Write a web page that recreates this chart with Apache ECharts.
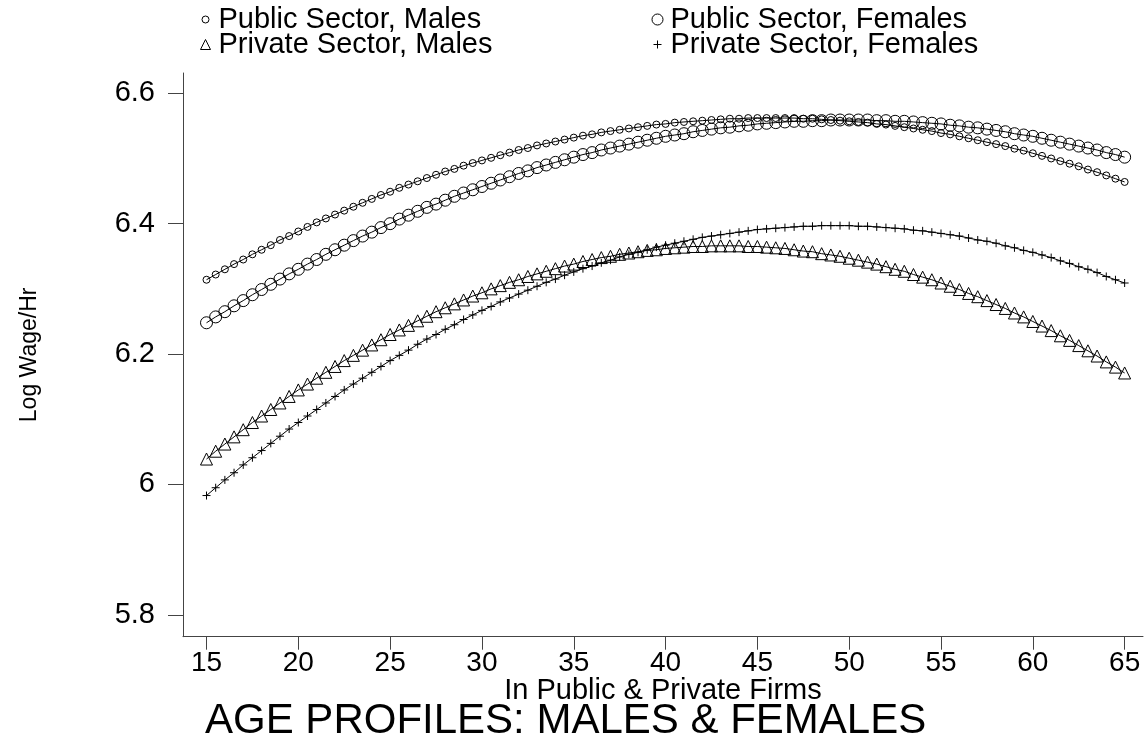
<!DOCTYPE html>
<html><head><meta charset="utf-8">
<script src="https://cdn.jsdelivr.net/npm/echarts@6/dist/echarts.min.js"></script>
<style>html,body{margin:0;padding:0;background:#fff}#chart{width:1145px;height:736px}</style>
</head><body><div id="chart"></div>
<script>
const ages = [15,15.5,16,16.5,17,17.5,18,18.5,19,19.5,20,20.5,21,21.5,22,22.5,23,23.5,24,24.5,25,25.5,26,26.5,27,27.5,28,28.5,29,29.5,30,30.5,31,31.5,32,32.5,33,33.5,34,34.5,35,35.5,36,36.5,37,37.5,38,38.5,39,39.5,40,40.5,41,41.5,42,42.5,43,43.5,44,44.5,45,45.5,46,46.5,47,47.5,48,48.5,49,49.5,50,50.5,51,51.5,52,52.5,53,53.5,54,54.5,55,55.5,56,56.5,57,57.5,58,58.5,59,59.5,60,60.5,61,61.5,62,62.5,63,63.5,64,64.5,65];

const publicMales = [6.314,6.322,6.330,6.338,6.345,6.353,6.360,6.367,6.375,6.381,
6.388,6.395,6.402,6.408,6.414,6.420,6.426,6.432,6.438,6.444,
6.449,6.455,6.460,6.465,6.470,6.475,6.480,6.484,6.489,6.493,
6.497,6.501,6.505,6.509,6.513,6.516,6.520,6.523,6.526,6.529,
6.532,6.535,6.537,6.540,6.542,6.544,6.546,6.548,6.550,6.552,
6.553,6.555,6.556,6.557,6.558,6.559,6.560,6.561,6.561,6.562,
6.562,6.562,6.562,6.562,6.562,6.561,6.561,6.560,6.559,6.558,
6.557,6.556,6.555,6.553,6.552,6.550,6.548,6.546,6.544,6.542,
6.539,6.537,6.534,6.531,6.528,6.525,6.522,6.519,6.515,6.512,
6.508,6.504,6.500,6.496,6.492,6.488,6.483,6.479,6.474,6.469,
6.464];

const publicFemales = [6.248,6.257,6.265,6.274,6.282,6.291,6.299,6.307,6.315,6.323,
6.330,6.338,6.345,6.353,6.360,6.367,6.374,6.381,6.387,6.394,
6.400,6.407,6.413,6.419,6.425,6.430,6.436,6.442,6.447,6.452,
6.457,6.462,6.467,6.472,6.477,6.481,6.486,6.490,6.494,6.498,
6.502,6.506,6.509,6.513,6.516,6.519,6.522,6.525,6.528,6.531,
6.534,6.536,6.538,6.541,6.543,6.545,6.547,6.548,6.550,6.551,
6.553,6.554,6.555,6.556,6.557,6.557,6.558,6.558,6.559,6.559,
6.559,6.559,6.559,6.558,6.558,6.557,6.557,6.556,6.555,6.554,
6.553,6.551,6.550,6.548,6.547,6.545,6.543,6.541,6.538,6.536,
6.534,6.531,6.528,6.525,6.522,6.519,6.516,6.513,6.509,6.506,
6.502];

const privateMales = [6.039,6.051,6.062,6.073,6.084,6.095,6.105,6.115,6.125,6.135,
6.145,6.154,6.163,6.172,6.181,6.190,6.198,6.206,6.214,6.222,
6.230,6.237,6.244,6.251,6.258,6.265,6.271,6.277,6.283,6.289,
6.294,6.300,6.305,6.310,6.314,6.319,6.323,6.327,6.331,6.335,
6.338,6.342,6.345,6.348,6.350,6.353,6.355,6.357,6.359,6.360,
6.362,6.363,6.364,6.365,6.365,6.366,6.366,6.366,6.366,6.365,
6.365,6.364,6.363,6.362,6.360,6.358,6.357,6.354,6.352,6.350,
6.347,6.344,6.341,6.338,6.334,6.330,6.327,6.322,6.318,6.314,
6.309,6.304,6.299,6.293,6.288,6.282,6.276,6.270,6.263,6.257,
6.250,6.243,6.236,6.228,6.221,6.213,6.205,6.197,6.188,6.180,
6.171];

const privateFemales = [5.983,5.995,6.007,6.018,6.030,6.041,6.052,6.063,6.074,6.085,
6.095,6.105,6.115,6.125,6.135,6.145,6.154,6.163,6.172,6.181,
6.190,6.198,6.206,6.215,6.223,6.230,6.238,6.245,6.253,6.260,
6.267,6.273,6.280,6.286,6.292,6.298,6.304,6.310,6.315,6.321,
6.326,6.331,6.335,6.340,6.344,6.349,6.353,6.356,6.360,6.364,
6.367,6.370,6.373,6.376,6.379,6.381,6.383,6.385,6.387,6.389,
6.391,6.392,6.393,6.394,6.395,6.396,6.396,6.397,6.397,6.397,
6.397,6.396,6.396,6.395,6.394,6.393,6.392,6.390,6.389,6.387,
6.385,6.383,6.381,6.378,6.375,6.373,6.370,6.366,6.363,6.359,
6.356,6.352,6.348,6.343,6.339,6.334,6.330,6.325,6.319,6.314,
6.309];

const seriesNames = ['Public Sector, Males', 'Public Sector, Females', 'Private Sector, Males', 'Private Sector, Females'];
const xTickValues = [15,20,25,30,35,40,45,50,55,60,65];
const yTickValues = [5.8,6,6.2,6.4,6.6];
const titleText = 'AGE PROFILES: MALES & FEMALES';
const xAxisTitle = 'In Public & Private Firms';
const yAxisTitle = 'Log Wage/Hr';

const FONT = '"Liberation Sans", Arial, Helvetica, sans-serif';
const PLUS = 'path://M5,0L5,10M0,5L10,5';
const hollow = {color: 'transparent', borderColor: '#000', borderWidth: 1};

function mkSeries(name, values, symbol, size) {
  return {
    name: name, type: 'line',
    data: ages.map(function (a, i) { return [a, values[i]]; }),
    symbol: symbol, symbolSize: size, showSymbol: true,
    lineStyle: {color: '#000', width: 1},
    itemStyle: hollow,
    emphasis: {disabled: true}, silent: true, animation: false, clip: false
  };
}
function mkLegend(name, icon, centerX, top, h) {
  return {
    data: [{name: name, icon: icon, itemStyle: hollow}],
    left: centerX - h / 2, top: top, padding: 0, itemWidth: h, itemHeight: h,
    selectedMode: false,
    textStyle: {fontFamily: FONT, fontSize: 29, color: '#000', padding: [0, 0, 0, 8 - h / 2]}
  };
}

const chart = echarts.init(document.getElementById('chart'));
chart.setOption({
  animation: false,
  backgroundColor: '#fff',
  title: {
    text: titleText, left: 205, top: 700, padding: 0,
    textStyle: {fontFamily: FONT, fontSize: 42, fontWeight: 'normal', color: '#000'}
  },
  legend: [
    mkLegend(seriesNames[0], 'circle', 205, 5, 7),
    mkLegend(seriesNames[1], 'circle', 657, 5, 11),
    mkLegend(seriesNames[2], 'triangle', 205, 30, 10),
    mkLegend(seriesNames[3], PLUS, 657, 30, 8)
  ],
  grid: {left: 183, top: 73, right: 2, bottom: 99.3, containLabel: false, outerBoundsMode: 'none'},
  xAxis: {
    type: 'value', min: 13.72, max: 66.0,
    name: xAxisTitle, nameLocation: 'middle', nameGap: 40, nameMoveOverlap: false,
    nameTextStyle: {fontFamily: FONT, fontSize: 29, color: '#000'},
    axisLine: {show: true, onZero: false, lineStyle: {color: '#444', width: 1}},
    axisTick: {show: true, length: 13, customValues: xTickValues, lineStyle: {color: '#444'}},
    axisLabel: {customValues: xTickValues, margin: 13, fontFamily: FONT, fontSize: 28, color: '#000'},
    splitLine: {show: false}
  },
  yAxis: {
    type: 'value', min: 5.7665, max: 6.6311,
    name: yAxisTitle, nameLocation: 'middle', nameGap: 142, nameMoveOverlap: false,
    nameTextStyle: {fontFamily: FONT, fontSize: 23, color: '#000'},
    axisLine: {show: true, onZero: false, lineStyle: {color: '#444', width: 1}},
    axisTick: {show: true, length: 15, customValues: yTickValues, lineStyle: {color: '#444'}},
    axisLabel: {customValues: yTickValues, margin: 28, fontFamily: FONT, fontSize: 29, color: '#000',
      formatter: function (v) { return String(v); }},
    splitLine: {show: false}
  },
  series: [
    mkSeries(seriesNames[0], publicMales, 'circle', 7),
    mkSeries(seriesNames[1], publicFemales, 'circle', 12),
    mkSeries(seriesNames[2], privateMales, 'triangle', 12),
    mkSeries(seriesNames[3], privateFemales, PLUS, 8)
  ]
});
</script>
</body></html>
